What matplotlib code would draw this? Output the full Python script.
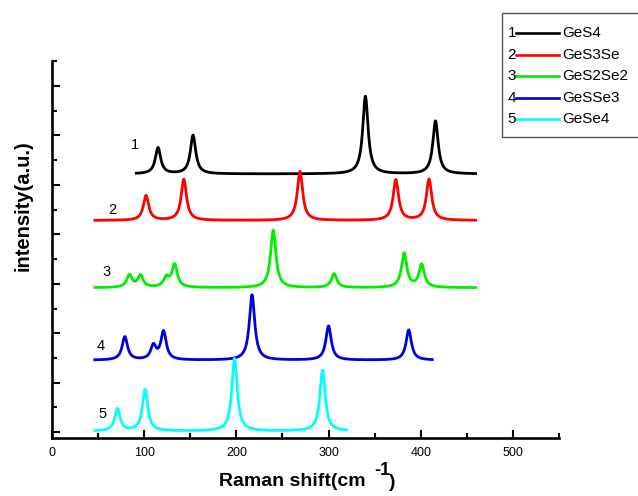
import numpy as np
import matplotlib
matplotlib.use("Agg")
import matplotlib.pyplot as plt
from matplotlib.patches import Rectangle
from matplotlib.lines import Line2D
from matplotlib.ticker import MultipleLocator, NullFormatter

plt.rcParams['font.family'] = ['Liberation Sans', 'DejaVu Sans']

# ---- data (peak positions in cm-1, peak heights in a.u.) ----
labels = ["GeS4", "GeS3Se", "GeS2Se2", "GeSSe3", "GeSe4"]
numbers = ["1", "2", "3", "4", "5"]
colors = ["#000000", "#ff0000", "#00ee00", "#0000dd", "#00ffff"]

black_pos = [115, 153, 340, 416]
black_amp = [0.53, 0.78, 1.57, 1.07]
red_pos = [102, 143, 269, 373, 409]
red_amp = [0.50, 0.83, 0.99, 0.82, 0.83]
green_pos = [84, 96, 124, 133, 240, 306, 382, 401]
green_amp = [0.25, 0.24, 0.19, 0.46, 1.16, 0.28, 0.69, 0.46]
blue_pos = [79, 110, 121, 217, 300, 387]
blue_amp = [0.47, 0.28, 0.57, 1.32, 0.69, 0.61]
cyan_pos = [71, 101, 198, 293.5]
cyan_amp = [0.45, 0.84, 1.47, 1.23]

offsets = [5.22, 4.28, 2.92, 1.455, 0.02]
x_start = [90, 45, 45, 45, 45]
x_end = [461, 461, 461, 414, 321]
label_xy = [(90, 5.80), (65, 4.5), (59, 3.23), (53, 1.75), (55, 0.36)]

fwhm = 7.0  # broadening of each Raman line

peaks = [(black_pos, black_amp), (red_pos, red_amp), (green_pos, green_amp),
         (blue_pos, blue_amp), (cyan_pos, cyan_amp)]

W, H = 638, 496
fig = plt.figure(figsize=(W / 100, H / 100), dpi=100)
ax = fig.add_axes([52 / W, (H - 437.5) / H, 507 / W, 376.8 / H])

g = fwhm / 2
for (pos, amp), off, x0, x1, c, num, (lx, ly) in zip(peaks, offsets, x_start, x_end,
                                                      colors, numbers, label_xy):
    x = np.linspace(x0, x1, 2000)
    y = np.full_like(x, off)
    for p, a in zip(pos, amp):
        y += a * g ** 2 / ((x - p) ** 2 + g ** 2)
    ax.plot(x, y, color=c, lw=2.0, solid_capstyle='butt')
    ax.text(lx, ly, num, fontsize=10.5, ha='center', va='center')

ax.set_xlim(0, 550)
ax.set_ylim(-0.108, 7.51)
ax.xaxis.set_major_locator(MultipleLocator(100))
ax.xaxis.set_minor_locator(MultipleLocator(50))
ax.yaxis.set_major_locator(MultipleLocator(1))
ax.yaxis.set_minor_locator(MultipleLocator(0.5))
ax.yaxis.set_major_formatter(NullFormatter())
ax.tick_params(which='both', direction='in', width=1.5, top=False, right=False)
ax.tick_params(which='major', length=6)
ax.tick_params(which='minor', length=3.8)
ax.tick_params(axis='x', labelsize=9, pad=7)
for s in ['top', 'right']:
    ax.spines[s].set_visible(False)
for s in ['left', 'bottom']:
    ax.spines[s].set_linewidth(1.9)

# axis labels
def px(xp, yp):
    return xp / W, 1 - yp / H

fig.text(*px(219, 486), "Raman shift(cm", fontsize=14, fontweight='bold',
         ha='left', va='baseline')
fig.text(*px(374, 475), "-1", fontsize=13, fontweight='bold', ha='left', va='baseline')
fig.text(*px(389, 487), ")", fontsize=14, fontweight='bold', ha='left', va='baseline')
fig.text(*px(22.7, 205.5), "intensity(a.u.)", fontsize=14.5, fontweight='bold',
         rotation=90, ha='center', va='center')

# legend box (runs off the right edge as in the reference)
fig.add_artist(Rectangle(px(501.7, 136.7), 160 / W, 123.4 / H, transform=fig.transFigure,
                         facecolor='white', edgecolor='#555555', lw=1.0, clip_on=False))
rows = [33.3, 55, 76, 97.7, 119.3]
for yrow, c, num, lab in zip(rows, colors, numbers, labels):
    fig.text(*px(516, yrow), num, fontsize=11, ha='right', va='center')
    fig.add_artist(Line2D([516 / W, 559 / W], [1 - yrow / H, 1 - yrow / H],
                          transform=fig.transFigure, color=c, lw=1.9))
    fig.text(*px(562.7, yrow), lab, fontsize=11, ha='left', va='center')

fig.savefig("out.png", dpi=100)
